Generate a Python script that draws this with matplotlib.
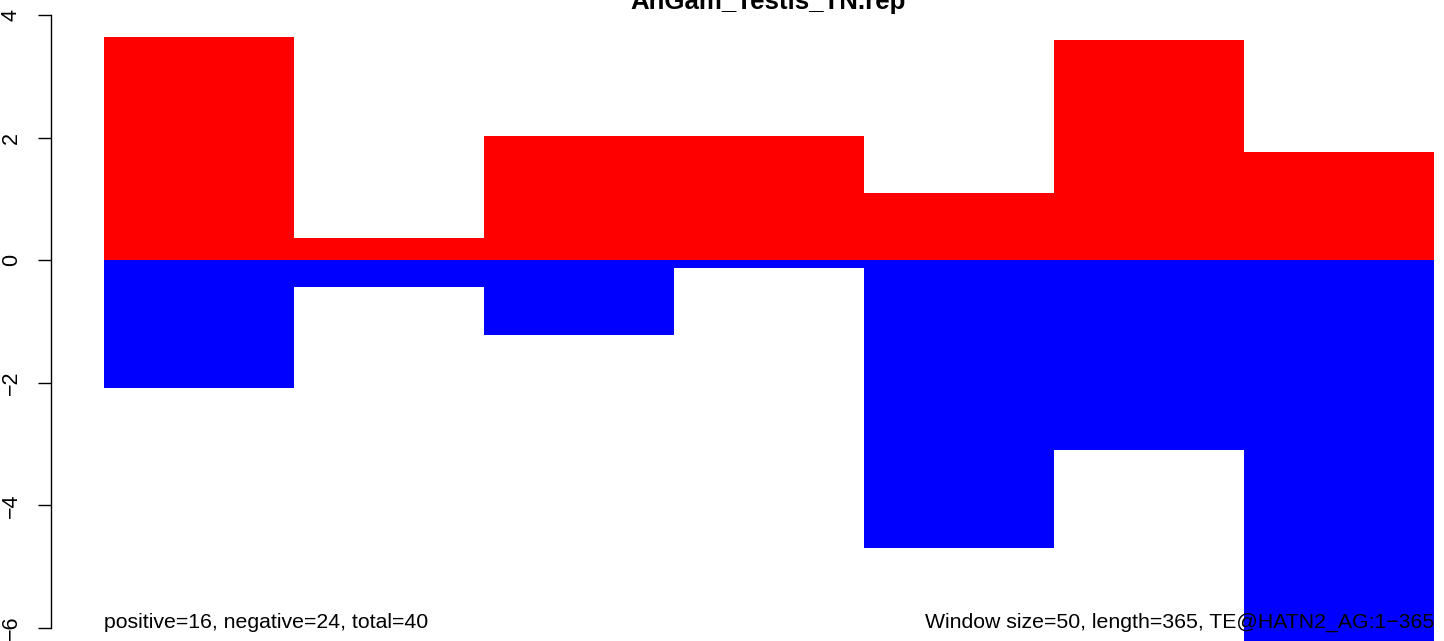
import matplotlib
matplotlib.use("Agg")
import matplotlib.pyplot as plt

plt.rcParams['font.family'] = ['Liberation Sans', 'DejaVu Sans']

# window values
pos_vals = [3.64, 0.36, 2.02, 2.02, 1.09, 3.59, 1.76]
neg_vals = [-2.09, -0.44, -1.22, -0.13, -4.70, -3.10, -6.40]
yticks = [-6, -4, -2, 0, 2, 4]

title = "AnGam_Testis_TN.rep"
left_note = "positive=16, negative=24, total=40"
right_note = "Window size=50, length=365, TE@HATN2_AG:1\u2212365"

fig = plt.figure(figsize=(14.44, 6.41), dpi=100)
# R-style plot region, partly outside the saved picture
ax = fig.add_axes([50.8 / 1444, -11.5 / 641, 1436.4 / 1444, 662 / 641])

n = len(pos_vals)
xs = list(range(n))
ax.bar(xs, pos_vals, width=1, align='edge', color='#ff0000', linewidth=0)
ax.bar(xs, neg_vals, width=1, align='edge', color='#0000ff', linewidth=0)

ax.set_xlim(-0.04 * n, n * 1.04)
ax.set_ylim(-6.4, 4.4)

for s in ['top', 'right', 'bottom']:
    ax.spines[s].set_visible(False)
ax.spines['left'].set_bounds(-6, 4)
ax.spines['left'].set_linewidth(1.0)
ax.set_xticks([])
ax.set_yticks(yticks)
ax.set_yticklabels([f"{t}".replace('-', '\u2212') for t in yticks],
                   rotation=90, va='center', fontsize=15.5)
ax.tick_params(axis='y', direction='out', length=9.4, width=1.0, pad=11.5)

ax.text(0, -6, left_note, ha='left', va='baseline', fontsize=15.3, zorder=5)
ax.text(n, -6, right_note, ha='right', va='baseline', fontsize=15.3, zorder=5)

fig.text(768 / 1444, 1 - 9 / 641, title, ha='center', va='baseline',
         fontsize=18.6, fontweight='bold')

fig.savefig("out.png", dpi=100)
